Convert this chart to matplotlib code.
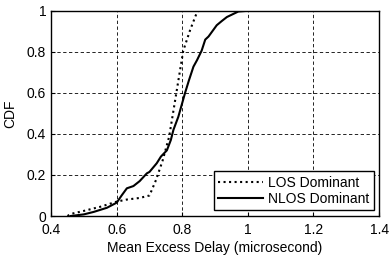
import numpy as np
import matplotlib.pyplot as plt

plt.rcParams['font.family'] = ['Liberation Sans', 'DejaVu Sans']

# LOS dominant (dotted)
los_x = [0.45, 0.46, 0.50, 0.55, 0.60, 0.63, 0.67, 0.70, 0.72, 0.74, 0.76, 0.77, 0.787, 0.803, 0.824, 0.844, 0.85, 1.4]
los_y = [0.0, 0.01, 0.025, 0.045, 0.07, 0.08, 0.088, 0.10, 0.176, 0.27, 0.387, 0.484, 0.65, 0.806, 0.907, 0.99, 1.0, 1.0]

# NLOS dominant (solid)
nlos_x = [0.46, 0.50, 0.53, 0.57, 0.60, 0.615, 0.631, 0.651, 0.67, 0.692, 0.70, 0.722, 0.735, 0.753, 0.765, 0.773,
          0.788, 0.809, 0.82, 0.834, 0.845, 0.859, 0.87, 0.88, 0.905, 0.92, 0.936, 0.971, 0.997, 1.4]
nlos_y = [0.0, 0.008, 0.02, 0.04, 0.065, 0.10, 0.135, 0.146, 0.17, 0.208, 0.215, 0.257, 0.29, 0.32, 0.37, 0.42,
          0.484, 0.603, 0.66, 0.728, 0.76, 0.806, 0.86, 0.875, 0.93, 0.95, 0.97, 0.997, 1.0, 1.0]

fig = plt.figure(figsize=(3.9, 2.59), dpi=100)
ax = fig.add_axes([0.131, 0.166, 0.841, 0.792])

ax.plot(los_x, los_y, color='black', linestyle=':', linewidth=1.5, label='LOS Dominant')
ax.plot(nlos_x, nlos_y, color='black', linestyle='-', linewidth=1.5, label='NLOS Dominant')

ax.set_xlim(0.4, 1.4)
ax.set_ylim(0, 1)
ax.set_xticks([0.4, 0.6, 0.8, 1.0, 1.2, 1.4])
ax.set_xticklabels(['0.4', '0.6', '0.8', '1', '1.2', '1.4'])
ax.set_yticks([0, 0.2, 0.4, 0.6, 0.8, 1.0])
ax.set_yticklabels(['0', '0.2', '0.4', '0.6', '0.8', '1'])
ax.grid(True, color='black', linestyle=(0, (4, 3)), linewidth=0.6)
ax.tick_params(direction='in', labelsize=10, length=3)
ax.tick_params(axis='x', pad=5)
ax.set_xlabel('Mean Excess Delay (microsecond)', fontsize=10, labelpad=3)
ax.set_ylabel('CDF', fontsize=10, labelpad=7)
for s in ax.spines.values():
    s.set_linewidth(1.0)

leg = ax.legend(loc='lower right', fontsize=10, frameon=True, fancybox=False, edgecolor='black',
                framealpha=1, handlelength=3.2, borderpad=0.3, labelspacing=0.2, borderaxespad=0.4,
                handletextpad=0.4)
leg.get_frame().set_linewidth(1.0)

fig.savefig('out.png', dpi=100)
